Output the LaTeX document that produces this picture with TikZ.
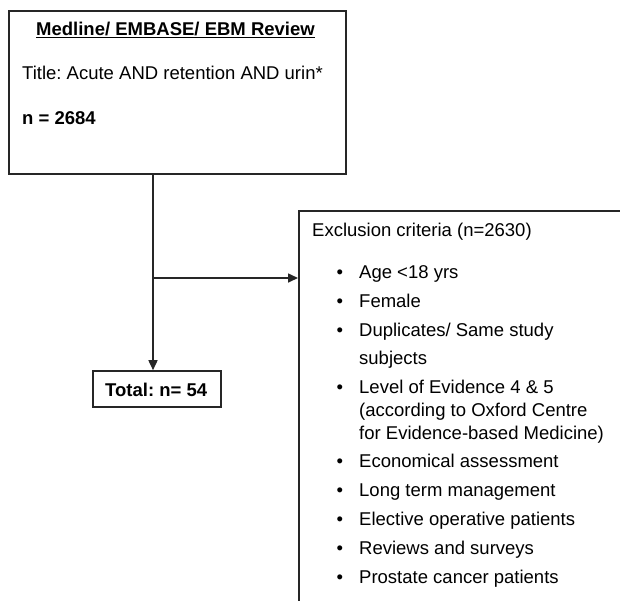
\documentclass[tikz,border=0pt]{standalone}
\usepackage{fontspec}
\setmainfont{Liberation Sans}
\usepackage{tikz}
\usetikzlibrary{arrows.meta,positioning}
\frenchspacing

\begin{document}
\begin{tikzpicture}[
  x=1pt, y=-1pt,
  every node/.style={inner sep=0pt, font=\fontsize{18.5}{22.5}\selectfont},
  box/.style={draw=black!85, line width=1.6pt, rectangle},
  txt/.style={anchor=base west},
  arrow/.style={-{Triangle[length=10pt,width=9pt]}, line width=1.6pt, draw=black!85}
]
  \useasboundingbox (0,0) rectangle (620,600);
  \clip (0,0) rectangle (620,600);

  % boxes
  \node[box, minimum width=337pt, minimum height=163pt] (db) at (177.5,92.5) {};
  \node[box, minimum width=128pt, minimum height=36pt] (total) at (157,389) {};
  \node[box, anchor=north west, minimum width=360pt, minimum height=420pt] (excl) at (298,210) {};

  % search box text
  \node[txt] (dbtitle) at (36,35.5) {\textbf{\underline{Medline/ EMBASE/ EBM Review}}};
  \node[txt] (dbquery) at (22,79) {Title: Acute AND retention AND urin*};
  \node[txt] (dbn) at (22,124) {\textbf{n = 2684}};
  \node[txt] (totaltext) at (105,396.5) {\textbf{Total: n= 54}};

  % exclusion criteria
  \node[txt] (excltitle) at (312,236) {Exclusion criteria (n=2630)};
  \foreach \y in {278,307,336,393.5,467.5,496.5,525.5,554.5,583.5}
    \node[txt] at (336.5,\y) {\textbullet};
  \foreach \y/\t in {278/Age <18 yrs, 307/Female, 336/{Duplicates/ Same study},
      364.5/subjects, 393.5/Level of Evidence 4 \& 5,
      416.5/(according to Oxford Centre, 439/for Evidence-based Medicine),
      467.5/Economical assessment, 496.5/Long term management,
      525.5/Elective operative patients, 554.5/Reviews and surveys,
      583.5/Prostate cancer patients}
    \node[txt] at (359,\y) {\t};

  % connectors
  \coordinate (split) at (153,278);
  \draw[arrow] (db.south -| split) -- (total.north -| split);
  \draw[arrow] (split) -- (split -| excl.west);
\end{tikzpicture}
\end{document}
